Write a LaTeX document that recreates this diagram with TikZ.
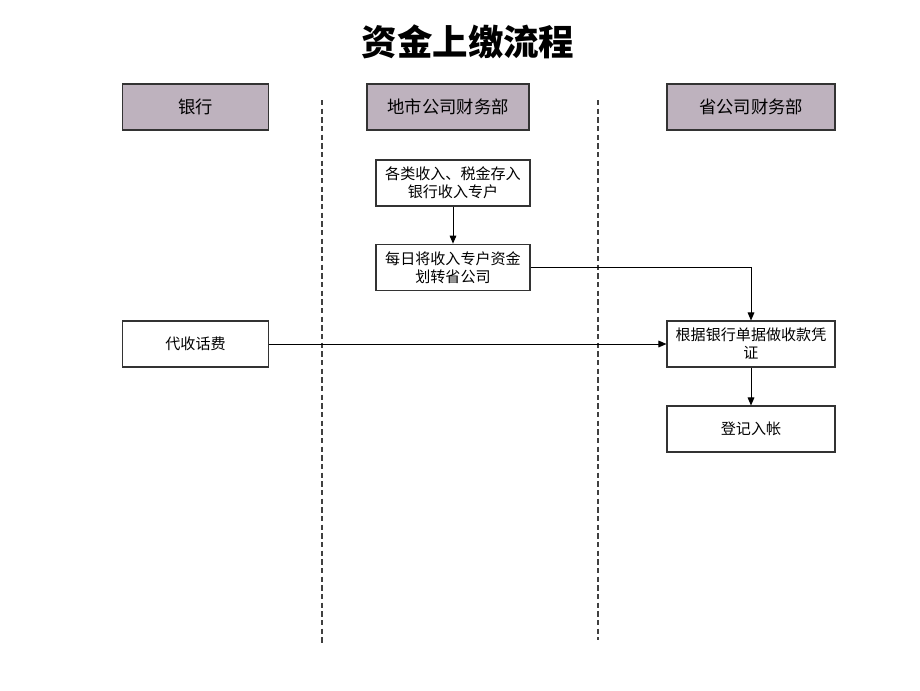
\documentclass[tikz,border=0pt]{standalone}
\usepackage{fontspec}
\setmainfont{Noto Sans CJK SC}
\usetikzlibrary{arrows.meta}
\definecolor{hdr}{RGB}{190,178,190}
\tikzset{
  px/.style={x=0.75pt,y=-0.75pt},
  box/.style={draw=black!80,line width=0.8pt,fill=white,align=center,inner sep=0pt,font=\fontsize{11.3}{13.5}\selectfont},
  hdrbox/.style={box,fill=hdr,font=\fontsize{13}{15}\selectfont},
  lane/.style={line width=0.8pt,black!75,dash pattern=on 4pt off 2.5pt},
  conn/.style={line width=0.75pt,-{Triangle[length=6pt,width=5pt]}}
}
\begin{document}
\begin{tikzpicture}[px]
\useasboundingbox (0,0) rectangle (920,690);
\node[font=\fontsize{26.6}{32}\selectfont\bfseries] (title) at (468,42) {资金上缴流程};
% headers
\node[hdrbox,minimum width=109pt,minimum height=34.5pt] (h1) at (195.5,107) {银行};
\node[hdrbox,minimum width=121.5pt,minimum height=34.5pt] (h2) at (448,107) {地市公司财务部};
\node[hdrbox,minimum width=126pt,minimum height=34.5pt] (h3) at (751,107) {省公司财务部};
% lanes
\coordinate (l1a) at (322,100); \coordinate (l1b) at (322,645);
\coordinate (l2a) at (598,100); \coordinate (l2b) at (598,640);
\draw[lane] (l1a) -- (l1b);
\draw[lane] (l2a) -- (l2b);
% boxes
\node[box,minimum width=115.5pt,minimum height=34.5pt] (a) at (453,183) {各类收入、税金存入\\银行收入专户};
\node[box,minimum width=115.5pt,minimum height=35pt] (b) at (453,267.5) {每日将收入专户资金\\划转省公司};
\node[box,minimum width=109pt,minimum height=34.5pt] (c) at (195.5,344) {代收话费};
\node[box,minimum width=126pt,minimum height=34.5pt] (d) at (751,344) {根据银行单据做收款凭\\证};
\node[box,minimum width=126pt,minimum height=34.5pt] (e) at (751,429) {登记入帐};
% connectors
\draw[conn] (a) -- (b);
\draw[conn] (b.east) -| (d.north);
\draw[conn] (c) -- (d);
\draw[conn] (d) -- (e);
\end{tikzpicture}
\end{document}
